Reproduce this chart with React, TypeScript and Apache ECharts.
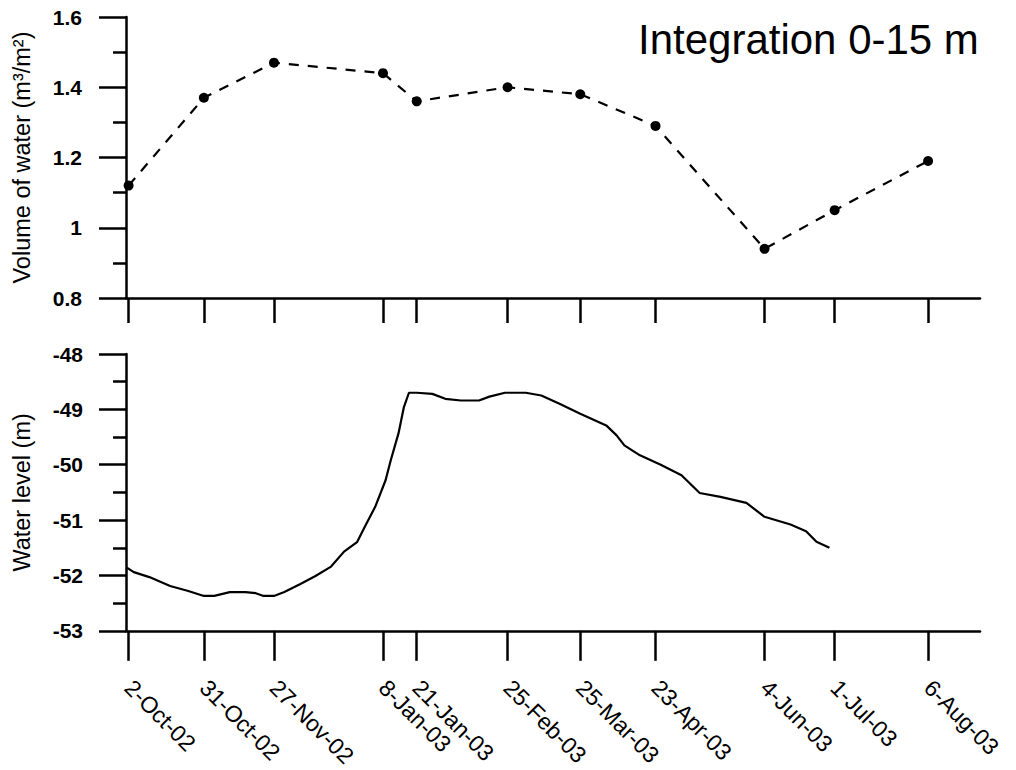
import React, { useEffect, useRef } from "react";
import * as echarts from "echarts";

// Sampling dates (tick marks) and labels
const tickDates = [
  "2002-10-02", "2002-10-31", "2002-11-27", "2003-01-08", "2003-01-21", "2003-02-25",
  "2003-03-25", "2003-04-23", "2003-06-04", "2003-07-01", "2003-08-06",
];
const tickLabels = [
  "2-Oct-02", "31-Oct-02", "27-Nov-02", "8-Jan-03", "21-Jan-03", "25-Feb-03",
  "25-Mar-03", "23-Apr-03", "4-Jun-03", "1-Jul-03", "6-Aug-03",
];

// Top panel: integrated volume of water (m3/m2), 0-15 m
const volumeValues = [1.12, 1.37, 1.47, 1.44, 1.36, 1.4, 1.38, 1.29, 0.94, 1.05, 1.19];

// Bottom panel: water level (m)
const levelDates = [
  "2002-10-01", "2002-10-04", "2002-10-10", "2002-10-18", "2002-10-25", "2002-10-31",
  "2002-11-04", "2002-11-10", "2002-11-16", "2002-11-20", "2002-11-23", "2002-11-27",
  "2002-12-01", "2002-12-07", "2002-12-13", "2002-12-19", "2002-12-24", "2002-12-29",
  "2003-01-01", "2003-01-05", "2003-01-09", "2003-01-11", "2003-01-14", "2003-01-16",
  "2003-01-18", "2003-01-21", "2003-01-27", "2003-02-01", "2003-02-07", "2003-02-14",
  "2003-02-18", "2003-02-24", "2003-03-04", "2003-03-10", "2003-03-17", "2003-03-25",
  "2003-04-04", "2003-04-08", "2003-04-11", "2003-04-17", "2003-04-25", "2003-05-03",
  "2003-05-10", "2003-05-18", "2003-05-28", "2003-06-04", "2003-06-14", "2003-06-20",
  "2003-06-24", "2003-06-29",
];
const levelValues = [
  -51.85, -51.94, -52.03, -52.19, -52.28, -52.37,
  -52.37, -52.3, -52.3, -52.32, -52.37, -52.37,
  -52.3, -52.16, -52.01, -51.84, -51.57, -51.4,
  -51.12, -50.76, -50.28, -49.92, -49.43, -48.97,
  -48.7, -48.7, -48.72, -48.81, -48.84, -48.84,
  -48.77, -48.7, -48.7, -48.75, -48.9, -49.08,
  -49.29, -49.47, -49.65, -49.83, -50.0, -50.19,
  -50.51, -50.58, -50.69, -50.94, -51.08, -51.2,
  -51.39, -51.5,
];

const xStart = "2002-10-01";
const xEnd = "2003-08-26";

const toTs = (s: string) => {
  const [y, m, d] = s.split("-").map(Number);
  return Date.UTC(y, m - 1, d);
};

const FONT = "'Liberation Sans', Arial, sans-serif";

export default function App() {
  const ref = useRef<HTMLDivElement>(null);

  useEffect(() => {
    if (!ref.current) return;
    const chart = echarts.init(ref.current, null, { renderer: "svg" });
    const tickTs = tickDates.map(toTs);
    const labelFor = (v: number) => {
      let best = 0;
      let bd = Infinity;
      tickTs.forEach((t, i) => {
        const d = Math.abs(t - v);
        if (d < bd) { bd = d; best = i; }
      });
      return tickLabels[best];
    };
    const axisLine = { show: true, lineStyle: { color: "#000", width: 2.5 } };

    const option: any = {
      animation: false,
      backgroundColor: "#fff",
      textStyle: { fontFamily: FONT },
      title: {
        text: "Integration 0-15 m",
        left: 633,
        top: 13,
        textStyle: { fontFamily: FONT, fontSize: 42, fontWeight: "normal", color: "#000" },
      },
      grid: [
        { left: 126, top: 17, right: 36, height: 281 },
        { left: 126, top: 354, right: 36, height: 278 },
      ],
      xAxis: [
        {
          type: "value", gridIndex: 0,
          min: toTs(xStart), max: toTs(xEnd),
          axisLine,
          axisTick: { show: true, customValues: tickTs, length: 25, lineStyle: { color: "#000", width: 2.5 } },
          axisLabel: { show: false },
          splitLine: { show: false },
        },
        {
          type: "value", gridIndex: 1,
          min: toTs(xStart), max: toTs(xEnd),
          axisLine,
          axisTick: { show: true, customValues: tickTs, length: 30, lineStyle: { color: "#000", width: 2.5 } },
          axisLabel: {
            show: true, customValues: tickTs, rotate: -45, margin: 53,
            formatter: (v: number) => labelFor(v),
            fontFamily: FONT, fontSize: 23, color: "#000",
          },
          splitLine: { show: false },
        },
      ],
      yAxis: [
        {
          type: "value", gridIndex: 0, min: 0.8, max: 1.6, interval: 0.2,
          name: "Volume of water (m³/m²)", nameLocation: "middle", nameGap: 92,
          nameTextStyle: { fontFamily: FONT, fontSize: 23.5, color: "#000" },
          axisLine,
          axisTick: { show: true, length: 27, lineStyle: { color: "#000", width: 2.5 } },
          minorTick: { show: true, splitNumber: 2, length: 13, lineStyle: { color: "#000", width: 2.5 } },
          axisLabel: { margin: 44, fontFamily: FONT, fontSize: 21, fontWeight: "bold", color: "#000" },
          splitLine: { show: false },
        },
        {
          type: "value", gridIndex: 1, min: -53, max: -48, interval: 1,
          name: "Water level (m)", nameLocation: "middle", nameGap: 92,
          nameTextStyle: { fontFamily: FONT, fontSize: 23.5, color: "#000" },
          axisLine,
          axisTick: { show: true, length: 27, lineStyle: { color: "#000", width: 2.5 } },
          minorTick: { show: true, splitNumber: 2, length: 13, lineStyle: { color: "#000", width: 2.5 } },
          axisLabel: { margin: 43, fontFamily: FONT, fontSize: 21, fontWeight: "bold", color: "#000" },
          splitLine: { show: false },
        },
      ],
      series: [
        {
          type: "line", xAxisIndex: 0, yAxisIndex: 0,
          data: tickDates.map((d, i) => [toTs(d), volumeValues[i]]),
          symbol: "circle", symbolSize: 10,
          itemStyle: { color: "#000" },
          lineStyle: { color: "#000", width: 2.2, type: [10, 9] },
        },
        {
          type: "line", xAxisIndex: 1, yAxisIndex: 1,
          data: levelDates.map((d, i) => [toTs(d), levelValues[i]]),
          symbol: "none",
          lineStyle: { color: "#000", width: 2.2 },
        },
      ],
    };
    chart.setOption(option);
    return () => chart.dispose();
  }, []);

  return (
    <div
      ref={ref}
      style={{ position: "fixed", left: 0, top: 0, width: 1016, height: 770, background: "#fff" }}
    />
  );
}
